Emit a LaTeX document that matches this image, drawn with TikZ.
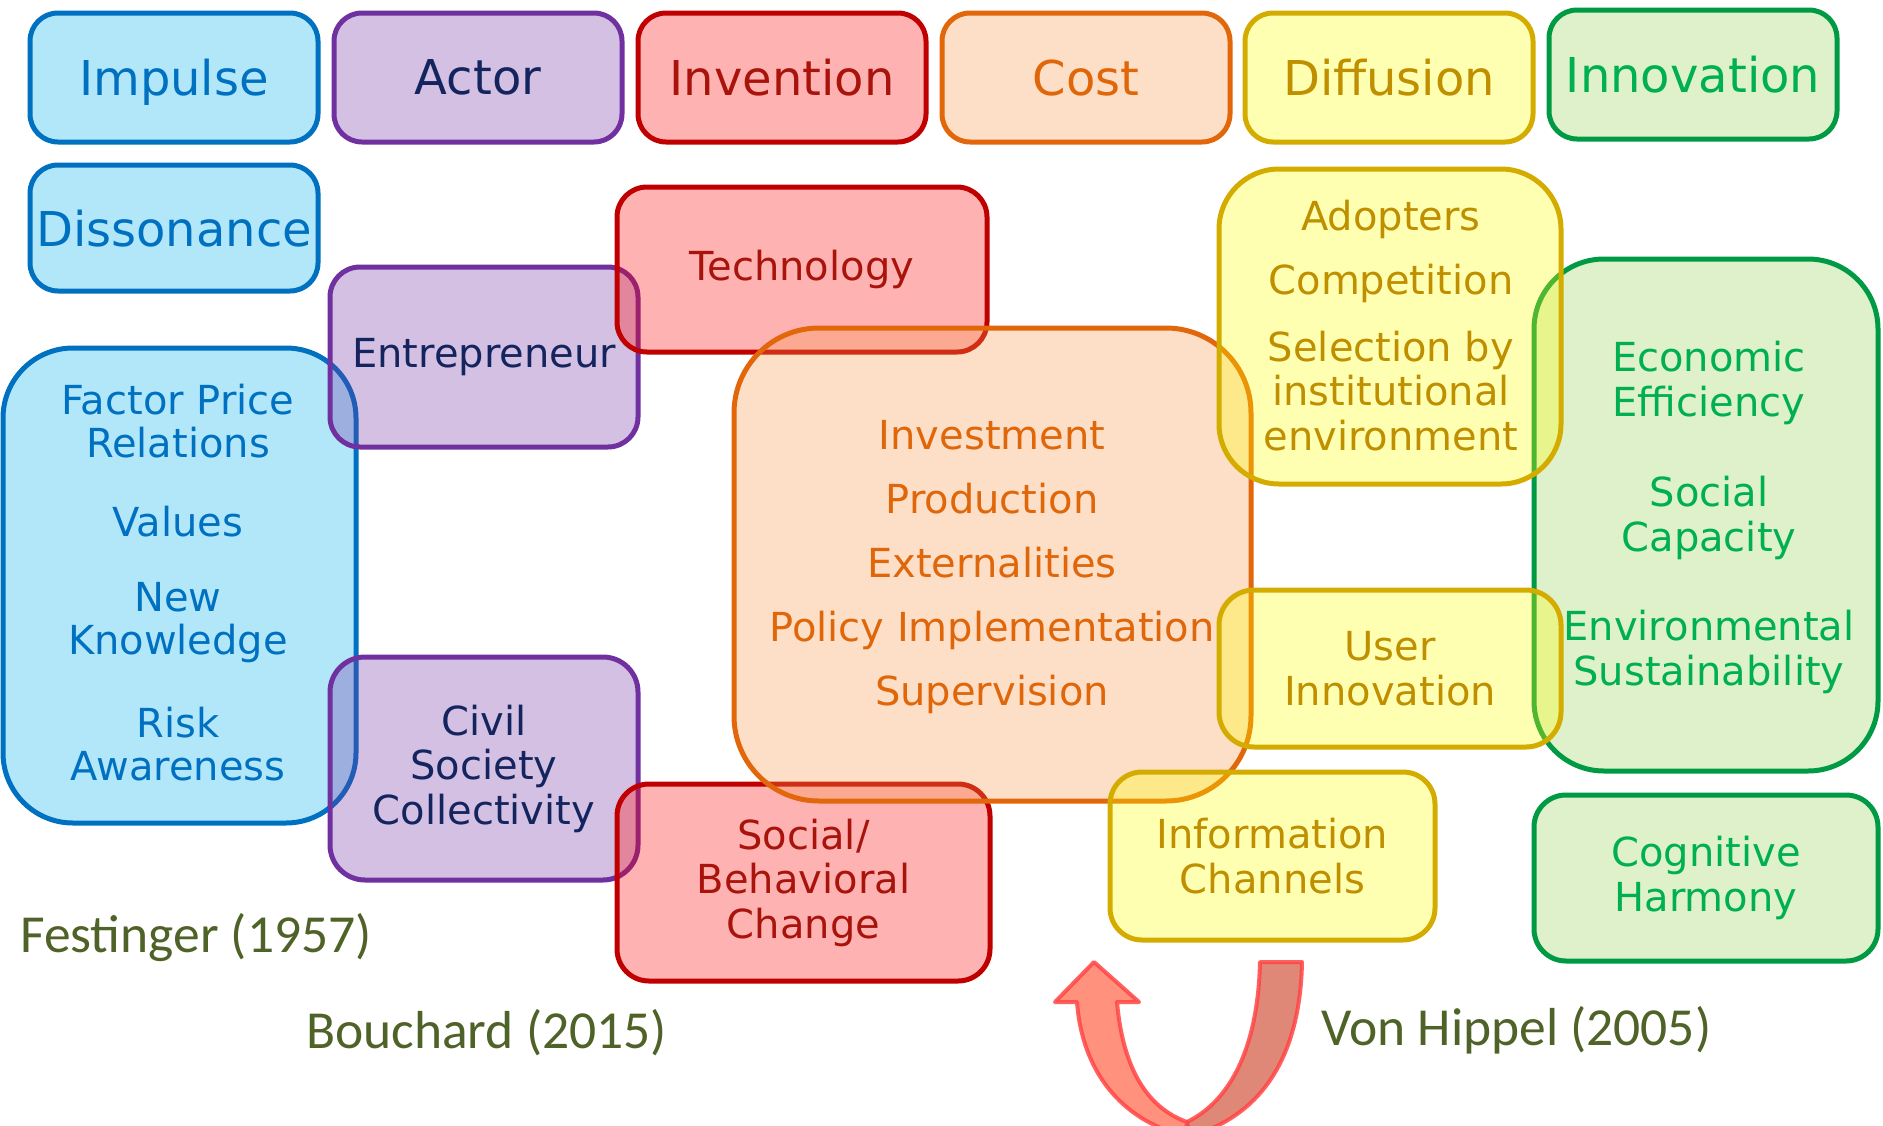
\documentclass[tikz,border=0pt]{standalone}
\usepackage{fontspec}
\setmainfont{DejaVu Sans}
\newfontfamily\citefont{Carlito}

\definecolor{blueline}{HTML}{0070C0}
\definecolor{bluefill}{HTML}{00B0F0}
\definecolor{bluetext}{HTML}{0070C0}
\definecolor{purpleline}{HTML}{7030A0}
\definecolor{purplefill}{HTML}{7030A0}
\definecolor{purpletext}{HTML}{14245E}
\definecolor{redline}{HTML}{C00000}
\definecolor{redfill}{HTML}{FF0000}
\definecolor{redtext}{HTML}{A8140C}
\definecolor{orangeline}{HTML}{E2670A}
\definecolor{orangefill}{HTML}{F79646}
\definecolor{orangetext}{HTML}{E0660A}
\definecolor{yellowline}{HTML}{D4AC00}
\definecolor{yellowfill}{HTML}{FFFF00}
\definecolor{yellowtext}{HTML}{BF8F00}
\definecolor{greenline}{HTML}{009A44}
\definecolor{greenfill}{HTML}{92D050}
\definecolor{greentext}{HTML}{00B050}
\definecolor{citegreen}{HTML}{4F6228}
\definecolor{arrowline}{HTML}{FF4545}
\definecolor{arrowlight}{HTML}{FF917D}
\definecolor{arrowdark}{HTML}{E08878}

\tikzset{
  box/.style={draw, line width=5pt, rounded corners=28pt, fill opacity=0.3,
    text opacity=1, align=center, inner sep=0pt},
  head/.style={font=\fontsize{48}{50}\selectfont, text depth=0pt},
  item/.style={align=center, inner sep=0pt, font=\fontsize{40}{43}\selectfont},
  wide/.style={font=\fontsize{40}{44.5}\selectfont},
  cite/.style={text=citegreen, inner sep=0pt, font=\citefont\fontsize{53.5}{56}\selectfont},
  bluebox/.style={box, draw=blueline, fill=bluefill, text=bluetext},
  purplebox/.style={box, draw=purpleline, fill=purplefill, text=purpletext},
  redbox/.style={box, draw=redline, fill=redfill, text=redtext},
  orangebox/.style={box, draw=orangeline, fill=orangefill, text=orangetext},
  yellowbox/.style={box, draw=yellowline, fill=yellowfill, text=yellowtext},
  greenbox/.style={box, draw=greenline, fill=greenfill, text=greentext},
  arrowband/.style={draw=arrowline, draw opacity=0.85, line width=4pt, line join=round}
}

\begin{document}
\begin{tikzpicture}[x=1pt,y=-1pt]
\clip (0,0) rectangle (1883,1125);

% impulse column
\node[bluebox, head, minimum width=288pt, minimum height=129pt] (impulse) at (174,77.5) {Impulse};
\node[bluebox, head, minimum width=288pt, minimum height=126pt] (dissonance) at (174,228) {Dissonance};
\node[bluebox, rounded corners=70pt, minimum width=353pt, minimum height=475pt] (factors) at (179.5,585.5) {};

% actors
\node[purplebox, head, minimum width=288pt, minimum height=129pt] (actor) at (478,77.5) {Actor};
\node[purplebox, item, minimum width=308pt, minimum height=180pt, rounded corners=30pt] (entrepreneur) at (484,357) {Entrepreneur};
\node[purplebox, item, wide, minimum width=308pt, minimum height=223pt, rounded corners=35pt] (civil) at (484,768.5) {Civil\\Society\\Collectivity};

% inventions
\node[redbox, head, minimum width=288pt, minimum height=129pt] (invention) at (782,77.5) {Invention};
\node[redbox, item, minimum width=370pt, minimum height=165pt, rounded corners=30pt] (technology) at (802,269.5) {Technology};
\node[redbox, item, wide, minimum width=373pt, minimum height=197pt, rounded corners=32pt] (social) at (803.5,882.5) {Social/\\Behavioral\\Change};

% cost
\node[orangebox, head, minimum width=288pt, minimum height=129pt] (cost) at (1086,77.5) {Cost};
\node[orangebox, rounded corners=85pt, minimum width=517pt, minimum height=473pt] (costbox) at (992.5,564.5) {};

% innovation
\node[greenbox, head, minimum width=288pt, minimum height=129pt] (innovation) at (1693,74.5) {Innovation};
\node[greenbox, rounded corners=70pt, minimum width=344pt, minimum height=512pt] (effects) at (1706,515) {};
\node[greenbox, item, wide, minimum width=344pt, minimum height=166pt, rounded corners=32pt] (cognitive) at (1706,878) {Cognitive\\Harmony};

% diffusion
\node[yellowbox, head, minimum width=288pt, minimum height=129pt] (diffusion) at (1389,77.5) {Diffusion};
\node[yellowbox, rounded corners=60pt, minimum width=342pt, minimum height=315pt] (adoption) at (1390,326.5) {};
\node[yellowbox, item, wide, minimum width=342pt, minimum height=157pt, rounded corners=35pt] (user) at (1390,668.5) {User\\Innovation};
\node[yellowbox, item, wide, minimum width=325pt, minimum height=168pt, rounded corners=32pt] (channels) at (1272.5,856) {Information\\Channels};

% box contents
\node[item, text=bluetext] (factorprice) at (178,421) {Factor Price\\Relations};
\node[item, text=bluetext] (values) at (178,522) {Values};
\node[item, text=bluetext] (knowledge) at (178,623) {New\\Knowledge};
\node[item, text=bluetext] (risk) at (178,744) {Risk\\Awareness};

\node[item, text=orangetext, font=\fontsize{40}{64}\selectfont] (costitems) at (992,567)
  {Investment\\Production\\Externalities\\Policy Implementation\\Supervision};

\node[item, text=yellowtext] (adopters) at (1391,219) {Adopters};
\node[item, text=yellowtext] (competition) at (1391,283) {Competition};
\node[item, wide, text=yellowtext] (selection) at (1391,391) {Selection by\\institutional\\environment};

\node[item, wide, text=greentext] (economic) at (1709,383) {Economic\\Efficiency};
\node[item, wide, text=greentext] (capacity) at (1709,518) {Social\\Capacity};
\node[item, wide, text=greentext] (sustain) at (1709,652) {Environmental\\Sustainability};

% sources
\node[cite, anchor=base west] (festinger) at (20,952) {Festinger (1957)};
\node[cite, anchor=base west] (bouchard) at (306,1048) {Bouchard (2015)};
\node[cite, anchor=base west] (hippel) at (1321,1045) {Von Hippel (2005)};

% turning arrow
\filldraw[arrowband, fill=arrowdark] (1260,962) -- (1302,962)
  .. controls (1300,1065) and (1255,1118) .. (1190,1136)
  -- (1187,1122) .. controls (1232,1100) and (1258,1045) .. (1260,962) -- cycle;
\filldraw[arrowband, fill=arrowlight] (1077,1002) -- (1055,1002) -- (1094,962)
  -- (1139,1002) -- (1117,1002)
  .. controls (1123,1070) and (1148,1108) .. (1187,1122)
  -- (1185,1136) .. controls (1120,1120) and (1082,1070) .. (1077,1002) -- cycle;
\end{tikzpicture}
\end{document}
